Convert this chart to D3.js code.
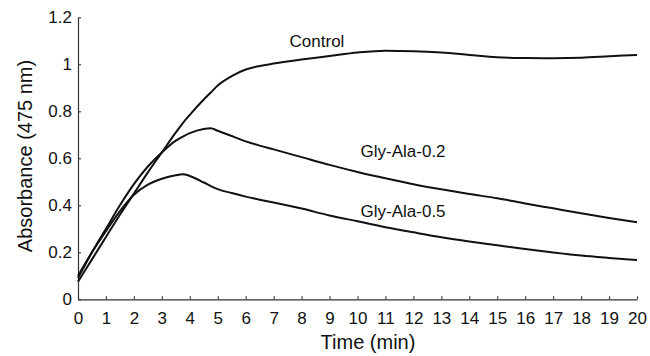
<!DOCTYPE html>
<html><head><meta charset="utf-8">
<script src="https://cdn.jsdelivr.net/npm/d3@7"></script>
<style>body{margin:0;background:#fff}svg{display:block}text{font-family:Arial,"Liberation Sans",sans-serif;fill:#111}</style>
</head><body><svg id="c" width="650" height="356"></svg>
<script>
const time = [0,0.5,1,1.5,2,2.5,3,3.5,3.75,4,4.5,4.75,5,5.5,6,6.5,7,8,9,10,11,12,13,14,15,16,17,18,19,20];
const control = [0.075,0.17,0.265,0.36,0.45,0.54,0.625,0.71,0.75,0.785,0.85,0.88,0.91,0.95,0.978,0.993,1.003,1.02,1.035,1.05,1.058,1.056,1.05,1.04,1.03,1.027,1.026,1.028,1.034,1.04];
const glyAla02 = [0.09,0.2,0.3,0.4,0.49,0.565,0.625,0.675,0.692,0.707,0.725,0.728,0.717,0.695,0.672,0.654,0.638,0.605,0.572,0.542,0.515,0.49,0.468,0.448,0.43,0.408,0.387,0.366,0.346,0.328];
const glyAla05 = [0.1,0.2,0.29,0.375,0.445,0.488,0.513,0.528,0.532,0.525,0.497,0.482,0.469,0.452,0.437,0.424,0.412,0.386,0.357,0.332,0.307,0.285,0.264,0.246,0.23,0.214,0.199,0.186,0.176,0.167];
const seriesNames = ["Control","Gly-Ala-0.2","Gly-Ala-0.5"];
const xTicks = d3.range(0,21,1);
const yTicks = [0,0.2,0.4,0.6,0.8,1,1.2];
const xTitle = "Time (min)";
const yTitle = "Absorbance (475 nm)";

const svg = d3.select("#c");
const x = d3.scaleLinear().domain([0,20]).range([78,637]);
const y = d3.scaleLinear().domain([0,1.2]).range([299.3,17.3]);

const xa = svg.append("g").attr("transform",`translate(0,${y(0)})`)
  .call(d3.axisBottom(x).tickValues(xTicks).tickSizeInner(-3).tickSizeOuter(0).tickPadding(8).tickFormat(d3.format("d")));
const ya = svg.append("g").attr("transform",`translate(${x(0)},0)`)
  .call(d3.axisLeft(y).tickValues(yTicks).tickSizeInner(-3).tickSizeOuter(0).tickPadding(6).tickFormat(d=>d===0?"0":d===1?"1":d3.format(".1f")(d)));
[xa,ya].forEach(g=>{
  g.select(".domain").attr("stroke","#333").attr("stroke-width",1.2);
  g.selectAll(".tick line").attr("stroke","#333").attr("stroke-width",1.1);
  g.selectAll(".tick text").attr("font-size",17).attr("font-family","Arial, 'Liberation Sans', sans-serif").attr("fill","#111");
});
xa.selectAll(".tick text").attr("dy","0.75em").attr("y",12);

svg.append("text").attr("x",368).attr("y",349).attr("text-anchor","middle").attr("font-size",20).text(xTitle);
svg.append("text").attr("transform","translate(32,156) rotate(-90)").attr("text-anchor","middle").attr("font-size",20).text(yTitle);

const series = [control, glyAla02, glyAla05];
const line = d3.line().x((d,i)=>x(time[i])).y(d=>y(d)).curve(d3.curveMonotoneX);
svg.append("g").selectAll("path").data(series).join("path")
  .attr("d",line).attr("fill","none").attr("stroke","#111").attr("stroke-width",2);

const labelPos = [[8.55,1.075],[11.63,0.606],[11.63,0.35]];
svg.append("g").selectAll("text").data(seriesNames).join("text")
  .attr("x",(d,i)=>x(labelPos[i][0])).attr("y",(d,i)=>y(labelPos[i][1]))
  .attr("text-anchor","middle").attr("font-size",17).text(d=>d);
</script></body></html>
